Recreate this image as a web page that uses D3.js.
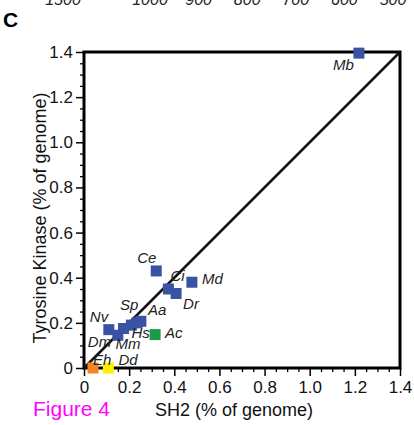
<!DOCTYPE html>
<html><head><meta charset="utf-8">
<script src="https://cdn.jsdelivr.net/npm/d3@7"></script>
<style>body{margin:0;background:#fff}svg{display:block}text{font-family:"Liberation Sans",Arial,Helvetica,sans-serif}</style>
</head><body>
<script>
// ---- data ----
const species = ["Mb","Ce","Ci","Dr","Md","Ac","Nv","Dm","Mm","Hs","Sp","Aa","Eh","Dd"];
const sh2 =     [1.218, 0.32, 0.374, 0.408, 0.478, 0.315, 0.11, 0.15, 0.175, 0.21, 0.235, 0.252, 0.04, 0.108];
const tyrK =    [1.395, 0.43, 0.35, 0.33, 0.38, 0.148, 0.17, 0.145, 0.175, 0.19, 0.2, 0.207, 0.0, 0.0];
const group =   ["blue","blue","blue","blue","blue","green","blue","blue","blue","blue","blue","blue","orange","yellow"];
const labelDx = [-26, -19, 2, 7, 10, 10, -19, -30, -8, 0, -17, 7, 0, 10];
const labelDy = [17, -8, -8, 15, 2, 3, -8, 12, 20, 13, -13, -6, -3, -3];
const majorTicks = [0, 0.2, 0.4, 0.6, 0.8, 1.0, 1.2, 1.4];
const topTickLabels = ["1500","1000","900","800","700","600","500"];
const topTickValues = [1500, 1000, 900, 800, 700, 600, 500];

const colors = {blue:"#3953a4", green:"#1a9a4b", orange:"#f5861f", yellow:"#fff000"};

const W = 414, H = 425;
const svg = d3.select("body").append("svg").attr("width", W).attr("height", H);

// clipped labels of panel above
const topX = v => v > 1000 ? 63 : d3.scaleLinear().domain([1000,500]).range([150,393])(v);
svg.selectAll("text.top").data(topTickLabels).join("text")
  .attr("x", (d,i) => topX(topTickValues[i])).attr("y", 5)
  .attr("text-anchor","middle").attr("font-size",16).attr("font-style","italic")
  .attr("fill","#222").text(d => d);

svg.append("text").attr("x", 3).attr("y", 27).attr("font-size", 21).attr("font-weight","bold").text("C");

const L = 84, R = 400, T = 52, B = 368;
const x = d3.scaleLinear().domain([0, 1.4]).range([L, R]);
const y = d3.scaleLinear().domain([0, 1.4]).range([B, T]);
const minorTicks = d3.range(0, 1.4001, 0.05).filter(v => Math.abs(Math.round(v*5) - v*5) > 1e-6);
const fmt = d => d === 0 ? "0" : d.toFixed(1);

// minor ticks
svg.append("g").attr("transform", `translate(0,${B})`)
  .call(d3.axisBottom(x).tickValues(minorTicks).tickSize(4).tickFormat(""))
  .call(g => { g.select(".domain").remove(); g.selectAll("line").attr("stroke-width",1.3); });
svg.append("g").attr("transform", `translate(${L},0)`)
  .call(d3.axisLeft(y).tickValues(minorTicks).tickSize(4).tickFormat(""))
  .call(g => { g.select(".domain").remove(); g.selectAll("line").attr("stroke-width",1.3); });

// major ticks
svg.append("g").attr("transform", `translate(0,${B})`)
  .call(d3.axisBottom(x).tickValues(majorTicks).tickSize(8).tickPadding(5).tickFormat(fmt))
  .call(g => { g.select(".domain").remove(); g.selectAll("line").attr("stroke-width",1.5);
    g.selectAll("text").attr("font-size",17).attr("fill","#111").attr("font-family","Liberation Sans, Arial, sans-serif"); });
svg.append("g").attr("transform", `translate(${L},0)`)
  .call(d3.axisLeft(y).tickValues(majorTicks).tickSize(8).tickPadding(3).tickFormat(fmt))
  .call(g => { g.select(".domain").remove(); g.selectAll("line").attr("stroke-width",1.5);
    g.selectAll("text").attr("font-size",17).attr("fill","#111").attr("font-family","Liberation Sans, Arial, sans-serif"); });

// frame
svg.append("rect").attr("x", L).attr("y", T).attr("width", R-L).attr("height", B-T)
  .attr("fill","none").attr("stroke","#000").attr("stroke-width",3);

// y = x line
svg.append("line").attr("x1", x(0)).attr("y1", y(0)).attr("x2", x(1.4)).attr("y2", y(1.4))
  .attr("stroke","#111").attr("stroke-width",2.5);

// points
const s = 11;
const idx = d3.range(species.length);
svg.selectAll("rect.pt").data(idx).join("rect").attr("class","pt")
  .attr("x", i => x(sh2[i]) - s/2).attr("y", i => y(tyrK[i]) - s/2)
  .attr("width", s).attr("height", s).attr("fill", i => colors[group[i]]);

svg.selectAll("text.lab").data(idx).join("text").attr("class","lab")
  .attr("x", i => x(sh2[i]) + labelDx[i]).attr("y", i => y(tyrK[i]) + labelDy[i])
  .attr("font-size", 15).attr("font-style","italic").attr("fill","#222")
  .text(i => species[i]);

// axis titles
svg.append("text").attr("x", 234).attr("y", 416).attr("text-anchor","middle")
  .attr("font-size", 18).attr("fill","#111").text("SH2 (% of genome)");
svg.append("text").attr("transform", "translate(46,218) rotate(-90)").attr("text-anchor","middle")
  .attr("font-size", 18).attr("fill","#111").text("Tyrosine Kinase (% of genome)");

svg.append("text").attr("x", 33).attr("y", 416).attr("font-size", 21).attr("fill","#ff00ff").text("Figure 4");
</script>
</body></html>
